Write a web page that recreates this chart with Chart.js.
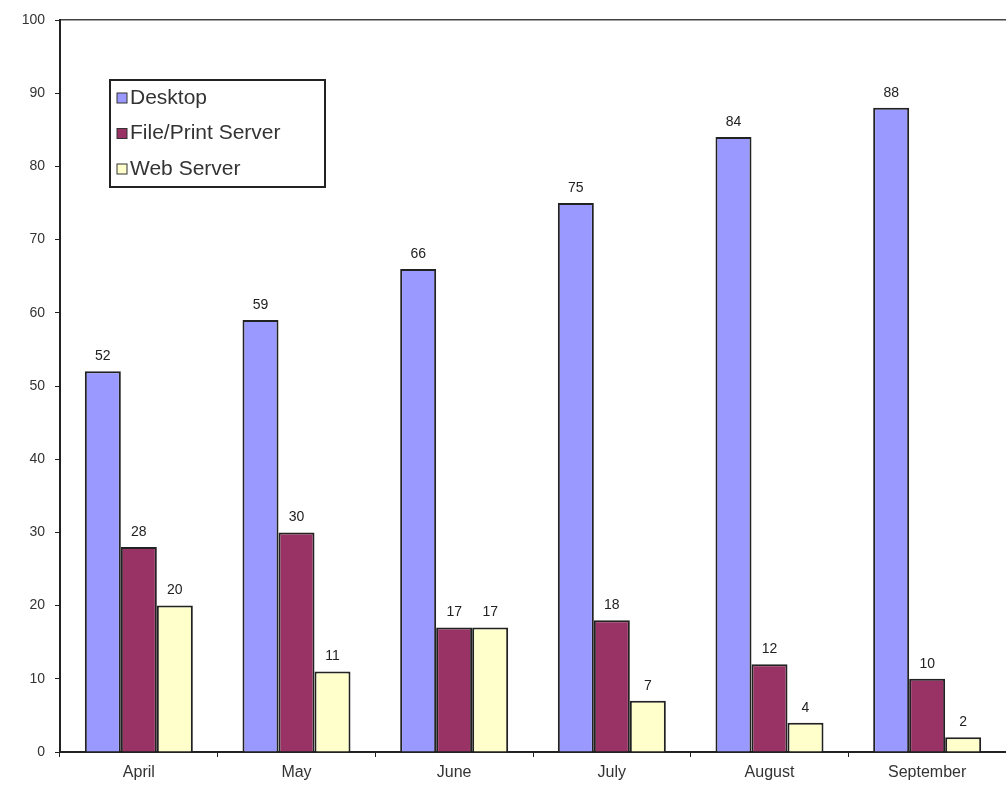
<!DOCTYPE html>
<html>
<head>
<meta charset="utf-8">
<script src="https://cdn.jsdelivr.net/npm/chart.js@4"></script>
<style>
    html, body { margin: 0; padding: 0; background: #fff; }
    #wrap { width: 1006px; height: 793px; }
</style>
</head>
<body>
<div id="wrap"><canvas id="barChart"></canvas></div>
<script>
// Chart data
const months = ['April', 'May', 'June', 'July', 'August', 'September'];
const desktop = [52, 59, 66, 75, 84, 88];
const filePrintServer = [28, 30, 17, 18, 12, 10];
const webServer = [20, 11, 17, 7, 4, 2];
const yTicks = [0, 10, 20, 30, 40, 50, 60, 70, 80, 90, 100];

const FONT = "'Liberation Sans', Arial, sans-serif";

/**
 * Value labels above each bar
 */
const valueLabels = {
    id: 'valueLabels',
    afterDatasetsDraw(chart) {
        const ctx = chart.ctx;
        ctx.save();
        ctx.font = '14px ' + FONT;
        ctx.fillStyle = '#222';
        ctx.textAlign = 'center';
        ctx.textBaseline = 'bottom';
        chart.data.datasets.forEach((ds, i) => {
            chart.getDatasetMeta(i).data.forEach((bar, j) => {
                ctx.fillText(ds.data[j], bar.x, bar.y - 8);
            });
        });
        ctx.restore();
    }
};

/**
 * Boxed legend inside the plot area
 */
const boxLegend = {
    id: 'boxLegend',
    afterDraw(chart) {
        const ctx = chart.ctx;
        const area = chart.chartArea;
        const x = area.left + 50, y = area.top + 60;
        const w = 215, h = 107;
        ctx.save();
        ctx.fillStyle = '#fff';
        ctx.fillRect(x, y, w, h);
        ctx.strokeStyle = '#222';
        ctx.lineWidth = 2;
        ctx.strokeRect(x, y, w, h);
        ctx.font = '21px ' + FONT;
        ctx.textBaseline = 'middle';
        chart.data.datasets.forEach((ds, i) => {
            const cy = y + 18 + i * 35.5;
            ctx.fillStyle = ds.backgroundColor;
            ctx.fillRect(x + 7, cy - 5, 10, 10);
            ctx.strokeStyle = '#333';
            ctx.lineWidth = 1;
            ctx.strokeRect(x + 7, cy - 5, 10, 10);
            ctx.fillStyle = '#333';
            ctx.fillText(ds.label, x + 20, cy);
        });
        ctx.restore();
    }
};

new Chart(document.getElementById('barChart'), {
    type: 'bar',
    data: {
        labels: months,
        datasets: [
            { label: 'Desktop', data: desktop, backgroundColor: '#9999ff' },
            { label: 'File/Print Server', data: filePrintServer, backgroundColor: '#993366' },
            { label: 'Web Server', data: webServer, backgroundColor: '#ffffcc' }
        ].map(d => Object.assign(d, {
            borderColor: '#222',
            borderWidth: 2,
            borderSkipped: 'bottom',
            categoryPercentage: 0.685,
            barPercentage: 1
        }))
    },
    options: {
        responsive: true,
        maintainAspectRatio: false,
        animation: false,
        layout: { padding: { top: 20, right: 0, left: 0, bottom: 0 } },
        plugins: {
            legend: { display: false },
            tooltip: { enabled: false }
        },
        scales: {
            x: {
                grid: {
                    offset: true,
                    drawOnChartArea: false,
                    tickLength: 5,
                    color: '#222'
                },
                border: { color: '#222', width: 2 },
                ticks: {
                    color: '#333',
                    padding: 6,
                    font: { family: FONT, size: 16 }
                },
                afterFit(scale) { scale.height = 41; }
            },
            xTop: {
                position: 'top',
                grid: { display: false },
                ticks: { display: false },
                border: { color: '#444', width: 1.5 },
                afterFit(scale) { scale.height = 0; }
            },
            y: {
                min: 0,
                max: 100,
                afterBuildTicks(scale) {
                    scale.ticks = yTicks.map(v => ({ value: v }));
                },
                grid: {
                    drawOnChartArea: false,
                    tickLength: 5,
                    color: '#222'
                },
                border: { color: '#222', width: 2 },
                ticks: {
                    color: '#333',
                    padding: 10,
                    font: { family: FONT, size: 14 }
                },
                afterFit(scale) { scale.width = 60; }
            }
        }
    },
    plugins: [valueLabels, boxLegend]
});
</script>
</body>
</html>
